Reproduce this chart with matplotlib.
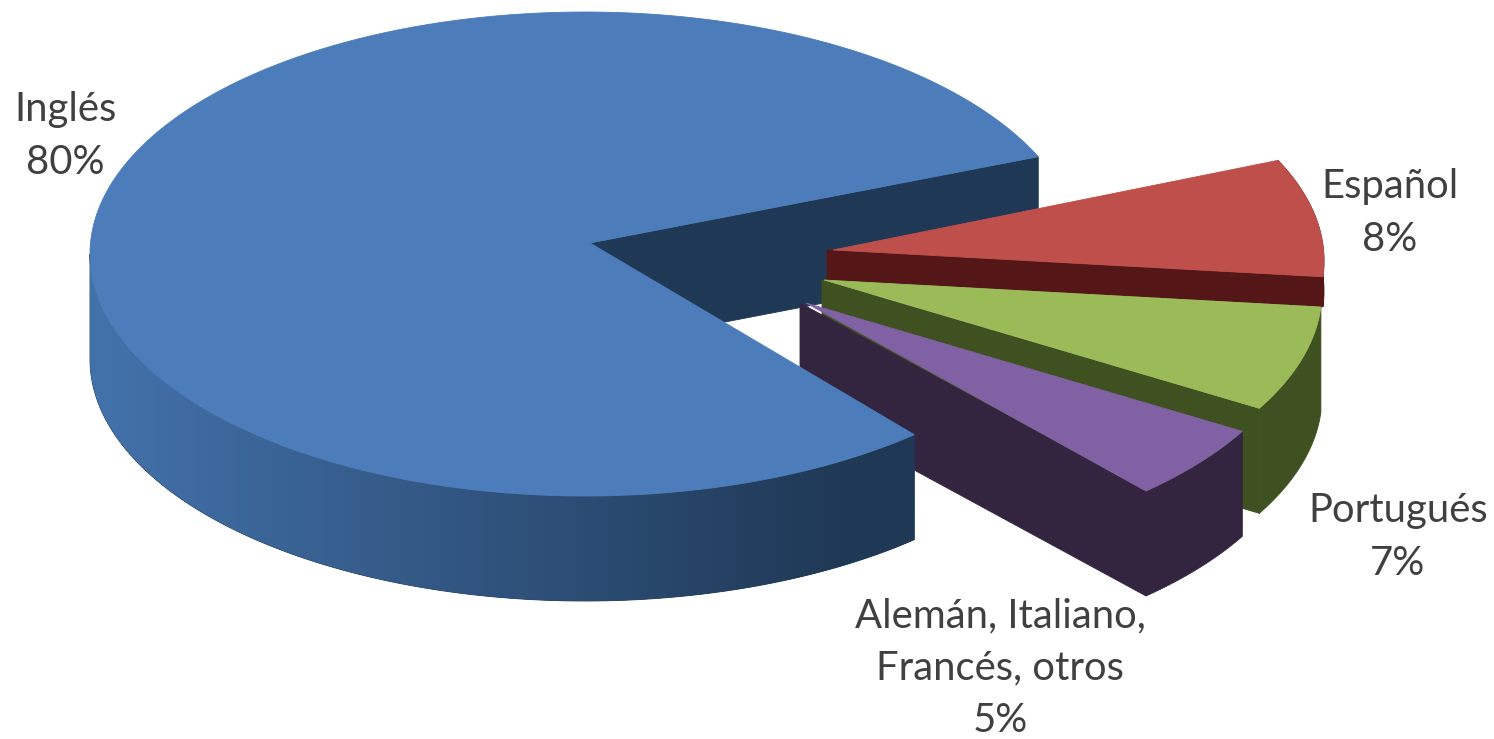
import numpy as np
import matplotlib
matplotlib.use("Agg")
import matplotlib.pyplot as plt
from matplotlib.patches import Polygon
from matplotlib.colors import to_rgb

labels = ["Inglés\n80%", "Español\n8%", "Portugués\n7%", "Alemán, Italiano,\nFrancés, otros\n5%"]
values = [80, 8, 7, 5]
top_colors = ["#4c7dba", "#bf4f4b", "#9abb58", "#8061a3"]
wall_colors = ["#1f3855", "#541616", "#3f5021", "#33253f"]
rim_left = "#4372ab"
apexes = [(590, 243), (833, 250), (824, 280), (806, 303)]
wall_x = [590, 827, 822, 800]
centres = [(585, 254), (832, 261), (822, 291), (805, 314)]
radii = [495.0, 492.0, 500.0, 500.0]
depths = [105.0, 30.0, 105.0, 105.0]
start_main = 23.7
start_rest = 25.0
label_pos = [(65, 136), (1390, 213), (1398, 537), (1000, 668)]
label_spacing = [1.53, 1.53, 1.53, 1.5]

RY_RATIO = 242.0 / 500.0
GRAD_END_X = 850.0

fig = plt.figure(figsize=(14.94, 7.39), dpi=100)
ax = fig.add_axes([0, 0, 1, 1])


def arc(i, t0, t1, n=200):
    t = np.radians(np.linspace(t0, t1, n))
    ry = 242.0 if i == 0 else radii[i] * RY_RATIO
    return np.column_stack([centres[i][0] + radii[i] * np.cos(t), centres[i][1] - ry * np.sin(t)])


def poly(pts, color, z):
    p = Polygon(pts, closed=True, fc=color, ec=color, lw=0.6, zorder=z)
    ax.add_patch(p)
    return p


def down(pts, d):
    return pts + np.array([0.0, d])


spans = [v * 3.6 for v in values]
# main slice: top face runs counter-clockwise from the cut's upper edge
m_start = start_main
m_end = start_main + spans[0]
main_arc = arc(0, m_start, m_end, 800)
edge_pt = main_arc[0]
ap0 = np.array(apexes[0], float)
poly(np.array([ap0, edge_pt, down(edge_pt, depths[0]), down(ap0, depths[0])]), wall_colors[0], 1)

# exploded slices, clockwise from the cut
a = start_rest
z = 2
for i in range(1, 4):
    t0, t1 = a, a - spans[i]
    a = t1
    ap = np.array(apexes[i], float)
    d = depths[i]
    rim = arc(i, t0, t1)
    end = rim[-1]
    ap_wall = np.array([wall_x[i], ap[1]], float)
    poly(np.vstack([rim, down(rim, d)[::-1]]), wall_colors[i], z)
    poly(np.array([ap_wall, end, down(end, d), down(ap_wall, d)]), wall_colors[i], z)
    poly(np.vstack([[ap], rim]), top_colors[i], z + 0.5)
    z += 1

# main rim with a smooth left-to-right shade
c0 = np.array(to_rgb(rim_left))
c1 = np.array(to_rgb(wall_colors[0]))
front = arc(0, 180, m_end, 300)
front_low = down(front, depths[0])
rim_shape = poly(np.vstack([front, front_low[::-1]]), wall_colors[0], 6)
x0, x1 = front[:, 0].min(), front[:, 0].max()
xs = np.linspace(x0, x1, 800)
frac = np.clip((xs - x0) / (GRAD_END_X - x0), 0, 1)[None, :, None]
shade = c0[None, None, :] + (c1 - c0)[None, None, :] * frac
y0, y1 = front[:, 1].min(), front_low[:, 1].max()
im = ax.imshow(shade, extent=(x0, x1, y1, y0), aspect="auto", zorder=6.2, interpolation="bilinear")
im.set_clip_path(rim_shape)
poly(np.vstack([[ap0], main_arc]), top_colors[0], 7)

ax.set_xlim(0, 1494)
ax.set_ylim(739, 0)
ax.axis("off")

for lab, (x, y), sp in zip(labels, label_pos, label_spacing):
    ax.text(x, y, lab, ha="center", va="center", fontsize=28.8, family="Lato",
            color="#404040", linespacing=sp, zorder=10)

fig.savefig("out.png", dpi=100, facecolor="white")
